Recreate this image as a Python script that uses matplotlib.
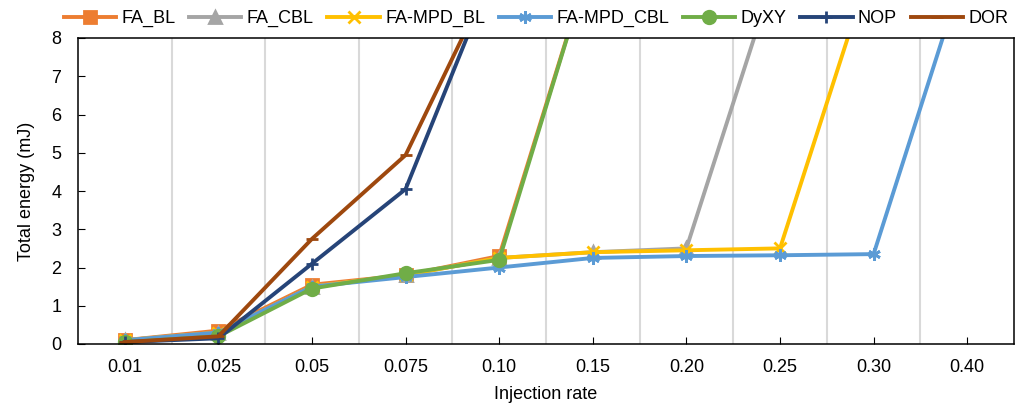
import matplotlib.pyplot as plt
import numpy as np

plt.rcParams['font.family'] = ['Liberation Sans', 'DejaVu Sans']

rates = ['0.01', '0.025', '0.05', '0.075', '0.10', '0.15', '0.20', '0.25', '0.30', '0.40']

fa_bl       = [0.10, 0.35, 1.55, 1.80, 2.30, 10.2]
fa_cbl      = [0.10, 0.30, 1.50, 1.80, 2.25, 2.40, 2.50, 10.1]
fa_mpd_bl   = [0.10, 0.30, 1.50, 1.80, 2.25, 2.40, 2.45, 2.50, 10.1]
fa_mpd_cbl  = [0.10, 0.30, 1.50, 1.75, 2.00, 2.25, 2.30, 2.32, 2.35, 10.0]
dyxy        = [0.05, 0.20, 1.45, 1.85, 2.20, 10.2]
nop         = [0.05, 0.15, 2.10, 4.05, 10.1]
dor         = [0.05, 0.20, 2.75, 4.94, 10.0]

series = [
    ('FA_BL', fa_bl, '#ED7D31', 's'),
    ('FA_CBL', fa_cbl, '#A5A5A5', '^'),
    ('FA-MPD_BL', fa_mpd_bl, '#FFC000', 'x'),
    ('FA-MPD_CBL', fa_mpd_cbl, '#5B9BD5', (6, 2, 0)),
    ('DyXY', dyxy, '#70AD47', 'o'),
    ('NOP', nop, '#264478', '+'),
    ('DOR', dor, '#9E480E', '_'),
]

fig = plt.figure(figsize=(10.21, 4.05), dpi=100)
ax = fig.add_axes([78/1021, 61/405, 936/1021, 306/405])

for name, vals, color, mk in series:
    x = np.arange(len(vals))
    ax.plot(x, vals, color=color, lw=2.8, marker=mk, markersize=9,
            markeredgewidth=2, markerfacecolor=color, markeredgecolor=color,
            label=name)

ax.set_xlim(-0.5, len(rates) - 0.5)
ax.set_ylim(0, 8)
ax.set_xticks(np.arange(len(rates)))
ax.set_xticklabels(rates)
ax.set_xticks(np.arange(len(rates) - 1) + 0.5, minor=True)
ax.grid(which='minor', axis='x', color='#D9D9D9', lw=1.5)
ax.tick_params(which='minor', length=0)
ax.tick_params(which='major', direction='in', length=5, labelsize=13)
ax.tick_params(axis='x', pad=11)
ax.tick_params(axis='y', pad=12)
ax.set_axisbelow(True)
for s in ax.spines.values():
    s.set_linewidth(1.1)

ax.set_xlabel('Injection rate', fontsize=13, labelpad=7)
ax.set_ylabel('Total energy (mJ)', fontsize=13, labelpad=12)

fig.legend(loc='upper center', bbox_to_anchor=(0.525, 1.015), ncol=7, frameon=False,
           fontsize=13, handlelength=2.9, columnspacing=0.75, handletextpad=0.3)

fig.savefig('out.png', dpi=100)
